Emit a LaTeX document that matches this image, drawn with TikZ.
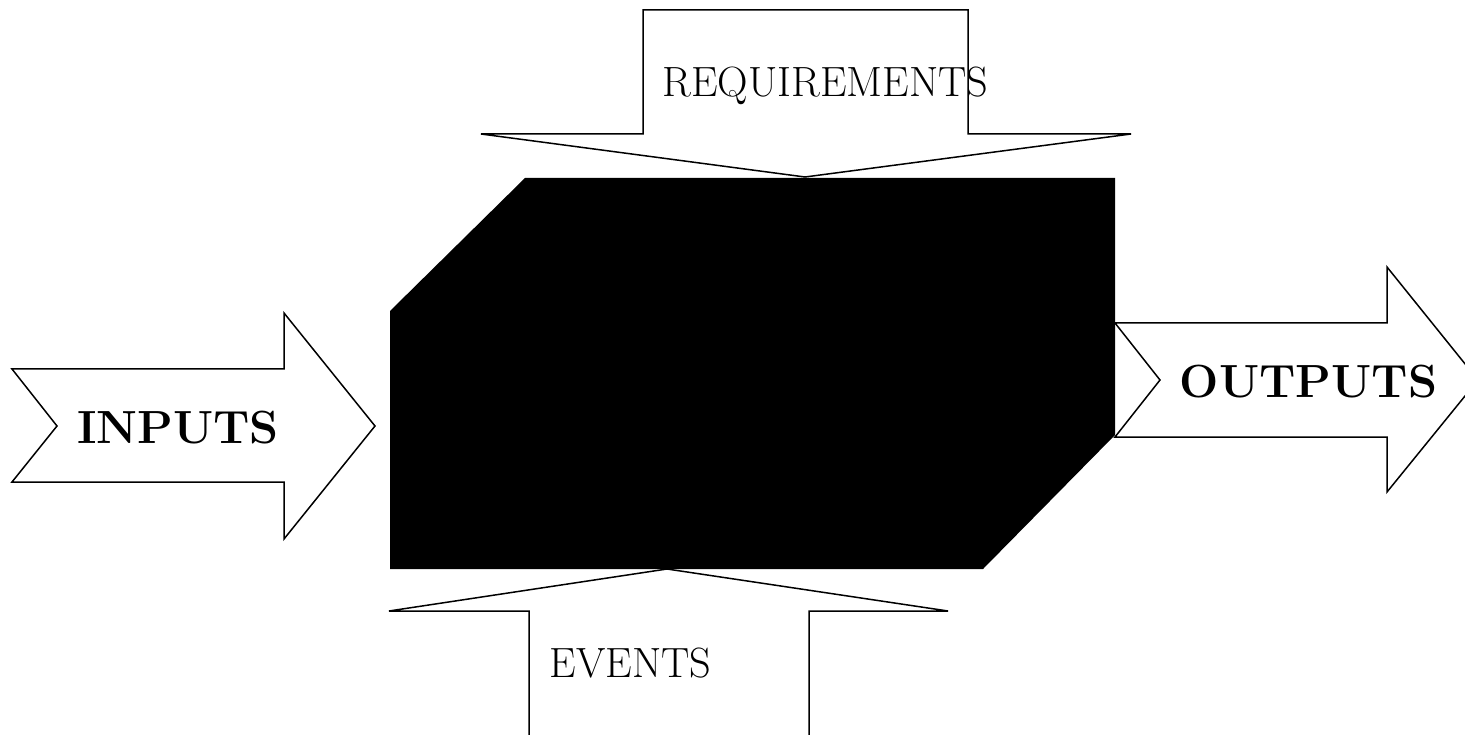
\documentclass[tikz,border=0pt]{standalone}
\usepackage{fontspec}
\begin{document}
\begin{tikzpicture}[x=1pt,y=-1pt,
  arrowshape/.style={draw=black,fill=white,line width=1.5pt,line join=miter},
  blockshape/.style={fill=black,draw=none},
  smalllabel/.style={anchor=base,inner sep=0pt,font=\fontsize{42.3}{45}\selectfont},
  biglabel/.style={anchor=base,inner sep=0pt,font=\fontsize{46.5}{49}\selectfont\bfseries}]
\useasboundingbox (0,0) rectangle (1465,735);
\clip (0,0) rectangle (1465,735);
% central block
\path[blockshape] (525,178) -- (1115,178) -- (1115,435) -- (983,569) -- (390,569) -- (390,311) -- cycle;
% requirements arrow (down)
\draw[arrowshape] (643,10) -- (968,10) -- (968,134) -- (1131,134) -- (805,177) -- (481,134) -- (643,134) -- cycle;
% events arrow (up)
\draw[arrowshape] (529,745) -- (529,611) -- (389,611) -- (667,569) -- (948,611) -- (809,611) -- (809,745);
% inputs arrow
\draw[arrowshape] (12,369) -- (284,369) -- (284,313) -- (375,426) -- (284,539) -- (284,482) -- (12,482) -- (57,426) -- cycle;
% outputs arrow
\draw[arrowshape] (1115,323) -- (1387,323) -- (1387,267) -- (1478,380) -- (1387,492) -- (1387,437) -- (1115,437) -- (1160,380) -- cycle;
% labels
\node[smalllabel] (req) at (825.5,97) {REQUIREMENTS};
\node[smalllabel] (evt) at (630.5,677) {EVENTS};
\node[biglabel] (inp) at (178,443) {INPUTS};
\node[biglabel] (outp) at (1308.5,397) {OUTPUTS};
\end{tikzpicture}
\end{document}
